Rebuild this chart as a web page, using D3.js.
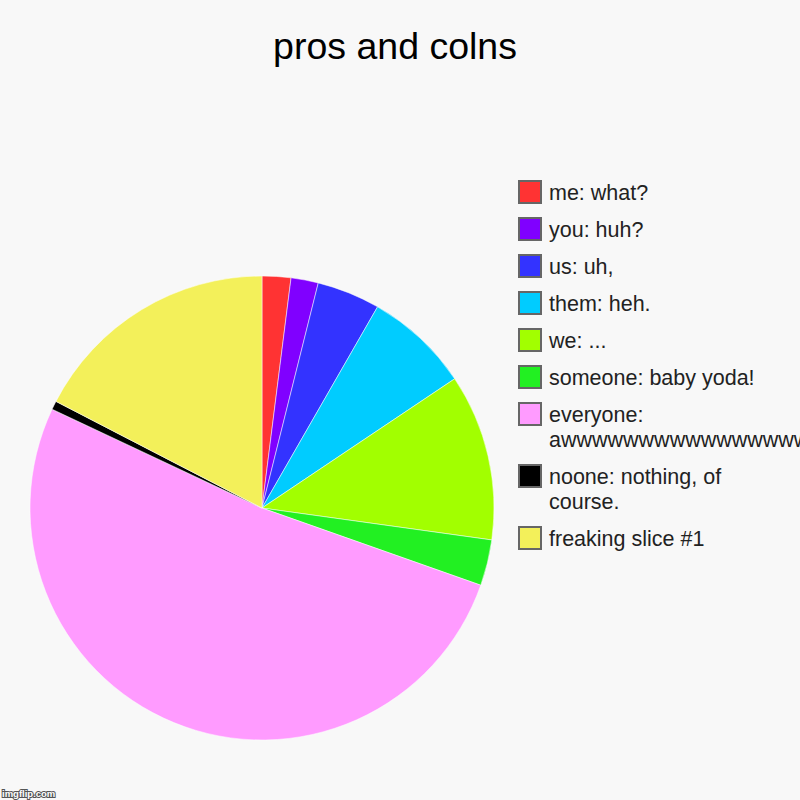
<!DOCTYPE html>
<html>
<head>
<meta charset="utf-8">
<script src="https://cdn.jsdelivr.net/npm/d3@7"></script>
<style>
  html, body { margin: 0; padding: 0; background: #f8f8f8; }
  svg { display: block; font-family: Arial, "Liberation Sans", sans-serif; }
</style>
</head>
<body>
<svg id="chart" width="800" height="800"></svg>
<script>
const labels = [
  "me: what?",
  "you: huh?",
  "us: uh,",
  "them: heh.",
  "we: ...",
  "someone: baby yoda!",
  "everyone: awwwwwwwwwwwwwwwwwwwwwwwwwww",
  "noone: nothing, of course.",
  "freaking slice #1",
];
const values = [2.0, 1.9, 4.4, 7.3, 11.6, 3.2, 51.6, 0.6, 17.4];
const colors = [
  "#ff3333", "#8000ff", "#3333ff", "#00ccff", "#a2ff00",
  "#22f022", "#ff9bff", "#000000", "#f3f05a",
];

function drawChart() {
  const svg = d3.select("#chart");
  const width = 800;
  const cx = 262, cy = 508, radius = 232;

  svg.append("rect").attr("width", width).attr("height", 800).attr("fill", "#f8f8f8");

  // title
  svg.append("text")
    .attr("x", 395)
    .attr("y", 59)
    .attr("text-anchor", "middle")
    .attr("font-size", 37.5)
    .attr("fill", "#000")
    .text("pros and colns");

  const data = labels.map((label, i) => ({ label, value: values[i], color: colors[i] }));

  const pie = d3.pie().sort(null).value((d) => d.value);
  const arc = d3.arc().innerRadius(0).outerRadius(radius);

  svg.append("g")
    .attr("transform", `translate(${cx},${cy})`)
    .selectAll("path")
    .data(pie(data))
    .enter()
    .append("path")
    .attr("d", arc)
    .attr("fill", (d) => d.data.color)
    .attr("stroke", "#ffffff")
    .attr("stroke-width", 0.5);

  // legend
  const legend = svg.append("g");
  const fontSize = 21.5, lineH = 25, rowGap = 37, maxW = 240;
  let y = 180;

  data.forEach((d) => {
    const row = legend.append("g").attr("transform", `translate(518,${y})`);
    row.append("rect")
      .attr("x", 1).attr("y", 1)
      .attr("width", 22).attr("height", 22)
      .attr("fill", d.color)
      .attr("stroke", "#666")
      .attr("stroke-width", 2);

    const text = row.append("text")
      .attr("x", 31)
      .attr("font-size", fontSize)
      .attr("fill", "#222");

    // simple word wrap
    const words = d.label.split(" ");
    let lines = [], cur = "";
    const probe = text.append("tspan");
    words.forEach((w) => {
      const test = cur ? cur + " " + w : w;
      probe.text(test);
      if (cur && probe.node().getComputedTextLength() > maxW) {
        lines.push(cur);
        cur = w;
      } else {
        cur = test;
      }
    });
    lines.push(cur);
    probe.remove();

    lines.forEach((ln, i) => {
      text.append("tspan")
        .attr("x", 31)
        .attr("y", 20 + i * lineH)
        .text(ln);
    });

    y += rowGap + (lines.length - 1) * lineH;
  });

  // watermark
  svg.append("text")
    .attr("x", 2)
    .attr("y", 797)
    .attr("font-size", 9.5)
    .attr("font-weight", "bold")
    .attr("fill", "#fff")
    .attr("stroke", "#555")
    .attr("stroke-width", 2)
    .attr("paint-order", "stroke")
    .text("imgflip.com");
}

drawChart();
</script>
</body>
</html>
